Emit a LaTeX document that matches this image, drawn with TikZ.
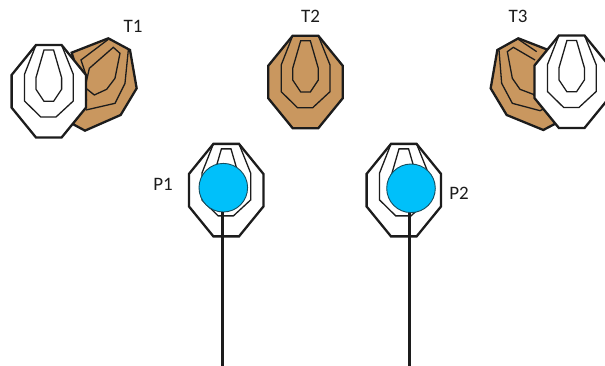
\documentclass[tikz,border=0pt]{standalone}
\usepackage{fontspec}
\setmainfont{Carlito}
\definecolor{tan1}{HTML}{C9975F}
\definecolor{ball}{HTML}{00C0FA}
\definecolor{ink}{HTML}{1C1C1C}
\tikzset{
  x=1pt,y=-1pt,
  outerline/.style={draw=ink,line width=2.3pt,line join=miter},
  thinline/.style={draw=ink,line width=1.3pt,line join=miter},
  lbl/.style={font=\fontsize{19}{21}\selectfont,text=ink,inner sep=0pt},
  ballnode/.style={circle,draw=ink!70!ball,line width=0.9pt,fill=ball,minimum size=48.6pt,inner sep=0pt},
  post/.style={draw=ink,line width=3.2pt},
  target/.pic={
    \path[outerline,fill=#1] (-12.8,-46.3) -- (12.8,-46.3) -- (37.2,-16.3) -- (37.2,16.3) -- (12.8,46.2) -- (-12.8,46.2) -- (-37.2,16.3) -- (-37.2,-16.3) -- cycle;
    \path[thinline] (-12.8,-46.3) -- (-24.3,-17) -- (-24.3,9.7) -- (-8,25.7) -- (7.2,25.7) -- (24.5,9.7) -- (24.5,-17) -- (12.8,-46.3);
    \path[thinline] (-4.8,-41.3) -- (4.8,-41.3) -- (12.8,-13.7) -- (12.8,-2) -- (4.8,10) -- (-4.8,10) -- (-12.8,-2) -- (-12.8,-13.7) -- cycle;
  }
}
\begin{document}
\begin{tikzpicture}
\useasboundingbox (0,0) rectangle (605,366);
\clip (0,0) rectangle (605,366);
% T1 turned target
\begin{scope}[x=0.3333pt,y=-0.3333pt]
\path[outerline,fill=tan1] (215,158) -- (325,115) -- (390,150) -- (410,265) -- (362,345) -- (255,392) -- (218,372) -- (258,300) -- cycle;
\path[thinline] (325,118) -- (243,180) -- (258,225);
\path[thinline] (385,150) -- (375,250) -- (345,310) -- (258,330);
\path[thinline] (258,250) -- (268,205) -- (340,142) -- (360,160) -- (345,235) -- (320,268) -- (283,285) -- (258,265);
\end{scope}
\pic at (48.8,91.3) {target=white};
% T2
\pic at (305.5,82) {target=tan1};
% T3 turned target
\begin{scope}[xshift=480pt,x=0.3333pt,y=-0.3333pt]
\path[outerline,fill=tan1] (205,150) -- (115,115) -- (52,150) -- (32,265) -- (80,345) -- (190,390) -- (228,370) -- (163,285) -- cycle;
\path[thinline] (115,118) -- (170,155);
\path[thinline] (57,150) -- (65,250) -- (97,310) -- (180,332) -- (195,325);
\path[thinline] (165,180) -- (100,142) -- (82,155) -- (97,235) -- (120,268) -- (165,285);
\end{scope}
\pic at (571.7,81.8) {target=white};
% player targets
\pic at (226.2,190.2) {target=white};
\pic at (403.8,190.2) {target=white};
\node[ballnode] (b1) at (223.3,187.7) {};
\node[ballnode] (b2) at (411,188.3) {};
\coordinate (e1) at (222.3,366);
\coordinate (e2) at (409.3,366);
\draw[post] (b1.south -| e1) -- (e1);
\draw[post] (b2.south -| e2) -- (e2);
% labels
\node[lbl] (t1) at (133,26) {T1};
\node[lbl] (t2) at (310.5,16) {T2};
\node[lbl] (t3) at (518,16) {T3};
\node[lbl] (p1) at (163,184) {P1};
\node[lbl] (p2) at (459,193) {P2};
\end{tikzpicture}
\end{document}
